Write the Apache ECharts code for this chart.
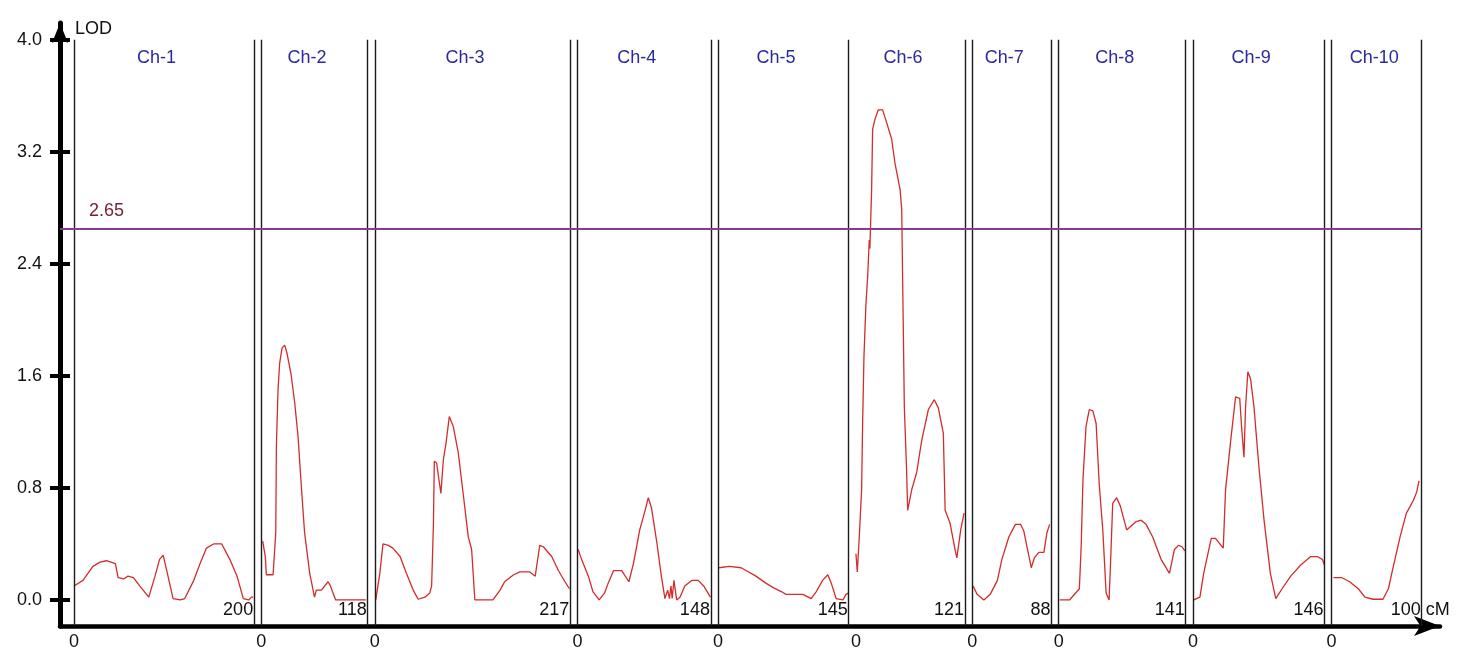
<!DOCTYPE html>
<html><head><meta charset="utf-8">
<script src="https://cdn.jsdelivr.net/npm/echarts@6/dist/echarts.min.js"></script>
<style>html,body{margin:0;padding:0;background:#fff}#c{width:1465px;height:650px}</style>
</head><body><div id="c"></div>
<script>
// ---------------- data ----------------
const chromNames = ['Ch-1','Ch-2','Ch-3','Ch-4','Ch-5','Ch-6','Ch-7','Ch-8','Ch-9','Ch-10'];
const chromLengths = [200,118,217,148,145,121,88,141,146,100];
const yTickValues = [0,0.8,1.6,2.4,3.2,4.0];
const thresholdLOD = 2.65;
const xUnit = 'cM';
const yName = 'LOD';

// LOD profiles: [position (cM within chromosome), LOD]
const ch1 = [[0,0.10],[10,0.14],[21,0.24],[29,0.27],[36,0.28],[46,0.26],[49,0.16],[55,0.15],[60,0.17],[66,0.16],[73,0.10],[83,0.02],[90,0.17],[95,0.29],[99,0.32],[103,0.21],[110,0.01],[118,0],[123,0.01],[133,0.14],[140,0.26],[147,0.37],[155,0.40],[164,0.40],[173,0.29],[181,0.17],[188,0.01],[194,0],[197,0.02],[199,0.02]];
const ch2 = [[1.5,0.42],[4.4,0.31],[5.5,0.18],[13,0.18],[15,0.17],[16,0.48],[16.7,1.10],[18.5,1.50],[20.3,1.69],[23,1.80],[26,1.82],[28.5,1.76],[33,1.61],[37,1.41],[40.7,1.17],[44.4,0.81],[48,0.48],[53.7,0.19],[59,0.02],[61,0.07],[66.7,0.07],[74,0.13],[76,0.11],[82.5,0],[116,0]];
const ch3 = [[1,0],[5.5,0.19],[9,0.40],[15,0.39],[20,0.37],[28,0.31],[35,0.19],[42.6,0.07],[48,0.005],[55.5,0.02],[61,0.05],[63,0.10],[65,0.54],[66,0.99],[68.5,0.98],[73.3,0.76],[76,1.0],[79,1.12],[82.6,1.31],[87,1.24],[92.6,1.05],[98,0.76],[103.7,0.45],[107.4,0.36],[111,0],[131,0],[139,0.07],[144,0.13],[154,0.18],[161,0.20],[172,0.20],[178,0.17],[183,0.39],[187,0.38],[196.3,0.31],[203.7,0.21],[211,0.13],[216,0.08]];
const ch4 = [[0.7,0.36],[4.4,0.29],[12,0.17],[17,0.06],[24,0],[30,0.05],[34,0.12],[40,0.21],[49,0.21],[57,0.13],[62,0.26],[69,0.50],[75,0.64],[78.5,0.73],[82,0.66],[88,0.41],[93,0.17],[97,0.01],[100,0.07],[102,0.01],[103.7,0.10],[105,0.01],[107,0.14],[110,0],[113.7,0.02],[119,0.10],[127,0.14],[134,0.14],[140,0.10],[145.6,0.04],[147.5,0.02]];
const ch5 = [[0.7,0.23],[12.5,0.24],[25.5,0.23],[31,0.21],[42,0.17],[53,0.12],[60.7,0.09],[70,0.06],[75.5,0.04],[94,0.04],[103.3,0.01],[109,0.06],[116,0.14],[121.8,0.18],[125.6,0.12],[131,0.01],[138.5,0],[142,0.04],[145,0.05]];
const ch6 = [[0,0.33],[1.5,0.20],[3.7,0.45],[6.3,0.79],[7.4,1.26],[8.9,1.74],[11,2.10],[13,2.31],[14.8,2.57],[15.5,2.51],[16.3,2.69],[17.4,2.93],[18.5,3.36],[21,3.43],[24.8,3.50],[29.6,3.50],[34,3.41],[39.7,3.29],[43.3,3.12],[49,2.93],[50.8,2.79],[52,2.21],[53.7,1.38],[56.3,0.91],[57.4,0.64],[62,0.79],[67.4,0.91],[73,1.14],[80.4,1.36],[87,1.43],[91.5,1.37],[97,1.19],[99,0.64],[104.4,0.55],[110,0.36],[112,0.30],[116.3,0.50],[120,0.62]];
const ch7 = [[1,0.10],[5.5,0.04],[13,0],[20,0.04],[28,0.14],[33,0.29],[40.7,0.45],[48,0.54],[53.7,0.54],[57.4,0.49],[65.6,0.23],[69,0.30],[74,0.34],[79.6,0.34],[83,0.48],[86,0.54]];
const ch8 = [[1,0],[12,0],[23,0.08],[25,0.38],[27,0.86],[30.4,1.24],[34,1.36],[38,1.35],[41.6,1.26],[45,0.83],[49,0.50],[52.7,0.05],[56,0],[58,0.33],[60,0.69],[64.4,0.73],[68.5,0.67],[75.5,0.50],[77.7,0.51],[86,0.56],[91.5,0.57],[97,0.54],[104.4,0.45],[113.7,0.29],[123,0.19],[128.5,0.36],[133,0.39],[137,0.38],[140,0.35]];
const ch9 = [[1,0],[7.8,0.02],[12,0.19],[16,0.31],[20.4,0.44],[25,0.44],[33.7,0.37],[36.3,0.79],[42,1.14],[47.4,1.45],[52,1.44],[54,1.24],[56.7,1.02],[58.5,1.38],[61,1.63],[64,1.58],[67.8,1.38],[73.3,0.95],[79,0.57],[86,0.19],[92,0.01],[99,0.08],[108.6,0.17],[119.7,0.25],[130.8,0.31],[138,0.31],[143.7,0.29],[146,0.25]];
const ch10 = [[2,0.16],[11,0.16],[20,0.13],[29.6,0.08],[37,0.02],[46,0.005],[57,0.005],[63,0.08],[68.5,0.24],[76,0.45],[83,0.62],[90.7,0.71],[94.4,0.77],[97,0.85]];
const lodProfiles = [ch1,ch2,ch3,ch4,ch5,ch6,ch7,ch8,ch9,ch10];

// ---------------- layout helpers ----------------
const GAP = 8;                       // cM gap between chromosome blocks
const offsets = [];
let acc = 0;
chromLengths.forEach(L => { offsets.push(acc); acc += L + GAP; });
const lastEnd = offsets[offsets.length-1] + chromLengths[chromLengths.length-1];
const X_MIN = -15.5, X_MAX = 1516.3, Y_MIN = -0.186, Y_MAX = 4.12;
const FONT = '"Liberation Sans", Arial, sans-serif';
const TXT = '#111';

// boundary lines (Ch-6's left border is not drawn in the source)
const boundaryLines = [];
chromLengths.forEach((L,i) => {
  if (i !== 5) boundaryLines.push([{coord:[offsets[i], 4.0]},{coord:[offsets[i], Y_MIN]}]);
  boundaryLines.push([{coord:[offsets[i]+L, 4.0]},{coord:[offsets[i]+L, Y_MIN]}]);
});

const curveSeries = lodProfiles.map((p,i) => ({
  type:'line', name: chromNames[i],
  data: p.map(([c,v]) => [offsets[i]+c, v]),
  showSymbol:false, symbol:'none', silent:true, z:4,
  lineStyle:{color:'#d42b2b', width:1.3}
}));

function textSeries(data, label) {
  return {
    type:'scatter', symbolSize:0, silent:true, z:5,
    itemStyle:{opacity:1},
    data,
    label:Object.assign({show:true, opacity:1, fontSize:18, color:TXT, fontFamily:FONT, formatter:p=>String(p.data[2])}, label)
  };
}

const option = {
  animation:false,
  backgroundColor:'#fff',
  textStyle:{fontFamily:FONT},
  grid:{left:60, right:25, top:23, bottom:24, containLabel:false, outerBoundsMode:'none'},
  xAxis:{
    type:'value', min:X_MIN, max:X_MAX,
    splitLine:{show:false},
    axisLine:{show:true, onZero:false, lineStyle:{color:'#000', width:4.5}, symbol:['none','arrow'], symbolSize:[15,26]},
    axisTick:{show:false},
    axisLabel:{show:true, customValues:offsets, formatter:()=> '0', margin:7, fontSize:18, color:TXT, fontFamily:FONT}
  },
  yAxis:[{
    type:'value', min:Y_MIN, max:Y_MAX, position:'left',
    name:yName, nameLocation:'end', nameGap:-6, nameMoveOverlap:false,
    nameTextStyle:{align:'left', verticalAlign:'middle', padding:[0,0,0,15], fontSize:18, color:TXT, fontFamily:FONT},
    splitLine:{show:false},
    axisLine:{show:true, onZero:false, lineStyle:{color:'#000', width:5}, symbol:['none','arrow'], symbolSize:[12,20]},
    axisTick:{show:true, inside:false, length:10, customValues:yTickValues, lineStyle:{color:'#000', width:4}},
    axisLabel:{show:true, customValues:yTickValues, formatter:v=>Number(v).toFixed(1), margin:18, fontSize:18, color:TXT, fontFamily:FONT}
  },{
    type:'value', min:Y_MIN, max:Y_MAX, position:'left', offset:0,
    splitLine:{show:false},
    axisLine:{show:false, onZero:false},
    axisTick:{show:true, inside:true, length:10, customValues:yTickValues, lineStyle:{color:'#000', width:4}},
    axisLabel:{show:false}
  }],
  series:[
    {
      type:'scatter', data:[[X_MIN, Y_MIN]], symbolSize:0, silent:true, z:2,
      markLine:{
        silent:true, symbol:['none','none'], label:{show:false}, animation:false,
        lineStyle:{color:'#1a1a1a', width:1.4, type:'solid', opacity:1},
        data: boundaryLines.concat([[
          {coord:[X_MIN, thresholdLOD], lineStyle:{color:'#8a3a8f', width:2}},
          {coord:[lastEnd, thresholdLOD]}
        ]])
      }
    },
    ...curveSeries,
    textSeries(chromNames.map((n,i)=>[offsets[i]+chromLengths[i]/2-30, 3.871, n]),
      {position:'right', distance:0, color:'#2a2a9c'}),
    textSeries(chromLengths.map((L,i)=>[offsets[i]+L, -0.07, L]),
      {position:'left', distance:1}),
    textSeries([[lastEnd, -0.07, xUnit]],
      {position:'right', distance:4}),
    textSeries([[X_MIN, thresholdLOD, thresholdLOD.toFixed(2)]],
      {position:'right', distance:29, offset:[0,-18], color:'#7a2030'})
  ]
};
const chart = echarts.init(document.getElementById('c'), null, {renderer:'canvas'});
chart.setOption(option);
</script>
</body></html>
